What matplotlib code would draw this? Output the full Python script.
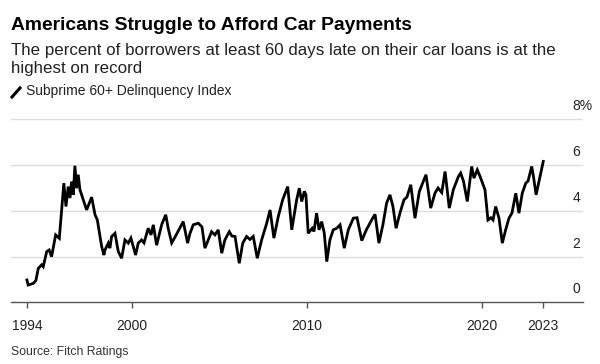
import numpy as np
import matplotlib.pyplot as plt
from matplotlib.lines import Line2D
import matplotlib.transforms as mtransforms

# ---------------------------------------------------------------
# Data: Fitch subprime 60+ delinquency index (%)
# ---------------------------------------------------------------
years = [
    1994.00, 1994.07, 1994.36, 1994.51, 1994.65, 1994.84, 1994.93, 1995.13,
    1995.27, 1995.41, 1995.64, 1995.85, 1996.11, 1996.23, 1996.36, 1996.46,
    1996.55, 1996.65, 1996.74, 1996.84, 1996.93, 1997.03, 1997.41, 1997.70,
    1997.89, 1998.02, 1998.27, 1998.40, 1998.46, 1998.65, 1998.74, 1998.84,
    1999.03, 1999.22, 1999.41, 1999.60, 1999.79, 1999.94, 2000.21, 2000.36,
    2000.55, 2000.69, 2000.93, 2001.09, 2001.22, 2001.41, 2001.70, 2001.93,
    2002.07, 2002.27, 2002.46, 2002.63, 2002.93, 2003.18, 2003.31, 2003.50,
    2003.79, 2004.00, 2004.17, 2004.36, 2004.55, 2004.74, 2004.93, 2005.13,
    2005.31, 2005.56, 2005.71, 2005.89, 2006.13, 2006.33, 2006.55, 2006.74,
    2006.93, 2007.16, 2007.41, 2007.70, 2007.89, 2008.11, 2008.36, 2008.61,
    2008.90, 2009.13, 2009.41, 2009.56, 2009.70, 2009.85, 2009.94, 2010.07,
    2010.30, 2010.40, 2010.55, 2010.69, 2010.84, 2010.99, 2011.13, 2011.31,
    2011.50, 2011.70, 2011.89, 2012.13, 2012.36, 2012.65, 2012.86, 2013.13,
    2013.41, 2013.70, 2013.89, 2014.11, 2014.34, 2014.55, 2014.74, 2014.91,
    2015.09, 2015.31, 2015.54, 2015.71, 2015.93, 2016.17, 2016.42, 2016.61,
    2016.80, 2017.07, 2017.31, 2017.49, 2017.70, 2017.89, 2018.13, 2018.36,
    2018.65, 2018.78, 2018.94, 2019.16, 2019.41, 2019.54, 2019.73, 2019.89,
    2020.17, 2020.34, 2020.51, 2020.63, 2020.78, 2020.97, 2021.16, 2021.35,
    2021.54, 2021.71, 2021.93, 2022.11, 2022.30, 2022.50, 2022.63, 2022.84,
    2022.94, 2023.09, 2023.50,
]
delinquency = [
    0.98, 0.76, 0.83, 0.95, 1.49, 1.64, 1.56, 2.22,
    2.29, 2.00, 2.95, 2.80, 5.21, 4.19, 5.06, 4.56,
    5.28, 4.70, 5.97, 4.99, 5.58, 4.92, 4.04, 4.60,
    3.83, 3.61, 2.44, 2.07, 2.29, 2.59, 2.37, 2.88,
    3.02, 2.22, 1.93, 2.73, 2.59, 2.81, 2.07, 2.59,
    2.73, 2.60, 3.24, 2.95, 3.39, 2.50, 3.40, 3.83,
    3.24, 2.60, 2.85, 3.10, 3.53, 2.59, 3.00, 3.39,
    3.46, 3.30, 2.37, 2.73, 3.09, 2.95, 3.17, 2.15,
    2.73, 3.09, 2.90, 2.88, 1.71, 2.59, 2.88, 2.75,
    2.88, 1.93, 2.73, 3.46, 4.04, 2.81, 3.75, 4.48,
    5.06, 3.17, 4.48, 4.99, 4.41, 4.85, 4.70, 3.02,
    3.24, 3.10, 3.90, 3.17, 3.53, 3.02, 1.78, 2.73,
    3.17, 3.24, 3.39, 2.37, 3.17, 3.68, 3.70, 2.70,
    3.20, 3.61, 3.85, 2.59, 3.40, 4.34, 4.70, 4.20,
    3.24, 3.90, 4.48, 4.60, 5.14, 3.68, 4.85, 5.21,
    5.58, 4.12, 4.77, 5.00, 4.80, 5.72, 4.12, 4.92,
    5.50, 5.65, 5.30, 4.41, 5.94, 5.43, 5.79, 5.50,
    4.92, 3.60, 3.70, 3.60, 4.19, 3.68, 2.59, 3.17,
    3.68, 3.90, 4.77, 3.90, 4.77, 5.21, 5.30, 5.94,
    5.50, 4.70, 6.16,
]

x_ticks = [1994, 2000, 2010, 2020, years[-1]]
x_tick_labels = ['1994', '2000', '2010', '2020', '2023']
y_ticks = [0, 2, 4, 6, 8]
y_tick_labels = ['0', '2', '4', '6', '8%']

title = 'Americans Struggle to Afford Car Payments'
subtitle_1 = 'The percent of borrowers at least 60 days late on their car loans is at the'
subtitle_2 = 'highest on record'
series_name = 'Subprime 60+ Delinquency Index'
source = 'Source: Fitch Ratings'

plt.rcParams['font.family'] = ['Liberation Sans', 'DejaVu Sans']

W, H = 600, 364
fig = plt.figure(figsize=(W / 100, H / 100), dpi=100)
fig.patch.set_facecolor('white')

# axes box in pixels: x 11..583, y (0%) 302 .. (8%) 119
ax = fig.add_axes([11 / W, 1 - 302.4 / H, (583 - 11) / W, (302.4 - 119.3) / H])
ax.set_xlim(1993.09, 2025.77)
ax.set_ylim(0, 8)
ax.set_facecolor('none')

# gridlines
for v in y_ticks[1:]:
    ax.axhline(v, color='#dcdcdc', linewidth=1.0, zorder=0)

ax.plot(years, delinquency, color='black', linewidth=2.0,
        solid_joinstyle='miter', zorder=3)

# axis styling
for side in ['top', 'right', 'left']:
    ax.spines[side].set_visible(False)
ax.spines['bottom'].set_color('#555555')
ax.spines['bottom'].set_linewidth(1.0)
ax.set_yticks([])
ax.set_xticks(x_ticks)
ax.set_xticklabels(x_tick_labels)
ax.tick_params(axis='x', direction='out', length=4, width=1, color='#555555',
               labelsize=10, labelcolor='#222222', pad=8)

# y labels sit just above each gridline, at the right end
trans = mtransforms.blended_transform_factory(ax.transAxes, ax.transData)
offset = mtransforms.ScaledTranslation(0, 6 / 100, fig.dpi_scale_trans)
for v, lab in zip(y_ticks, y_tick_labels):
    ax.text(0.981, v, lab, transform=trans + offset, ha='left', va='bottom',
            fontsize=10, color='#222222')

# header texts
fig.text(11 / W, 1 - 30 / H, title, fontsize=13.9, fontweight='bold',
         color='black', ha='left', va='baseline')
fig.text(11 / W, 1 - 54.5 / H, subtitle_1, fontsize=12.2, color='#222222',
         ha='left', va='baseline')
fig.text(11 / W, 1 - 73.5 / H, subtitle_2, fontsize=12.2, color='#222222',
         ha='left', va='baseline')

# legend marker: short diagonal stroke
fig.add_artist(Line2D([12 / W, 20 / W], [1 - 97 / H, 1 - 88 / H],
                      color='black', linewidth=2.2, transform=fig.transFigure))
fig.text(26 / W, 1 - 95.5 / H, series_name, fontsize=10, color='#222222',
         ha='left', va='baseline')

fig.text(11 / W, 1 - 352 / H, source, fontsize=8.8, color='#333333',
         ha='left', va='center')

fig.savefig('out.png', dpi=100, facecolor='white')
